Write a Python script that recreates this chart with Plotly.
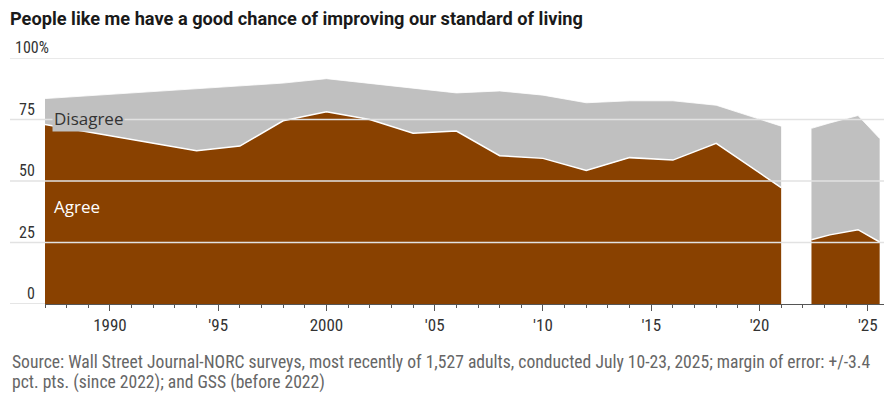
import plotly.graph_objects as go

# ---- data ----
years_gss = [1987, 1994, 1996, 1998, 2000, 2002, 2004, 2006, 2008, 2010, 2012, 2014, 2016, 2018, 2021]
agree_gss = [73.0, 62.3, 64.2, 74.5, 78.1, 75.0, 69.4, 70.3, 60.3, 59.2, 54.3, 59.5, 58.5, 65.3, 47.3]
disagree_gss = [10.5, 25.2, 24.5, 15.3, 13.5, 14.6, 18.2, 15.5, 26.3, 25.7, 27.5, 23.1, 24.1, 15.5, 25.0]

years_wsj = [2022.4, 2023.25, 2024.55, 2025.55]
agree_wsj = [26.1, 28.1, 30.2, 25.2]
disagree_wsj = [45.3, 45.5, 46.4, 42.1]

tick_years = [1990, 1995, 2000, 2005, 2010, 2015, 2020, 2025]
tick_labels = ["1990", "'95", "2000", "'05", "'10", "'15", "'20", "'25"]
y_grid = [25, 50, 75, 100]
y_labels = ["25", "50", "75", "100%"]

title_text = "People like me have a good chance of improving our standard of living"
source_1 = ("Source: Wall Street Journal-NORC surveys, most recently of 1,527 adults, "
            "conducted July 10-23, 2025; margin of error: +/-3.4")
source_2 = "pct. pts. (since 2022); and GSS (before 2022)"

BROWN = "#894100"
GRAY = "#c0c0c0"
NARROW = "Liberation Sans Narrow, Roboto Condensed, Arial Narrow, sans-serif"

fig = go.Figure()

for grp, xs, ag, dis in [("gss", years_gss, agree_gss, disagree_gss),
                         ("wsj", years_wsj, agree_wsj, disagree_wsj)]:
    fig.add_trace(go.Scatter(
        x=xs, y=ag, stackgroup=grp, mode="lines",
        line=dict(color="white", width=1.5), fillcolor=BROWN,
        hoverinfo="skip", showlegend=False))
    fig.add_trace(go.Scatter(
        x=xs, y=dis, stackgroup=grp, mode="lines",
        line=dict(color="white", width=0.8), fillcolor=GRAY,
        hoverinfo="skip", showlegend=False))

# page body has an 8px margin, so the figure is drawn 8px smaller and offset
OFF = 8
W, H = 895 - OFF, 404 - OFF
L, R, T = 45 - OFF, W - (884 - OFF), 58 - OFF
B = H - (304.4 - OFF)
plot_w = W - L - R
grid_x0 = (10 - 45) / plot_w
plot_bottom = 304.4 - OFF

shapes = []
for v in y_grid:
    shapes.append(dict(type="line", xref="paper", yref="y", x0=grid_x0, x1=1,
                       y0=v, y1=v, layer="above",
                       line=dict(color="#e2e2e2", width=1.3)))
shapes.append(dict(type="line", xref="paper", yref="y", x0=grid_x0, x1=0,
                   y0=0, y1=0, layer="above", line=dict(color="#dddddd", width=1.3)))

annotations = []
for v, lab in zip([0] + y_grid, ["0"] + y_labels):
    if lab.endswith("%"):
        annotations.append(dict(xref="paper", yref="y", x=0, y=v, xanchor="left",
                                yanchor="bottom", xshift=13 - 45, yshift=-1, text=lab,
                                showarrow=False,
                                font=dict(family=NARROW, size=16, color="#333333")))
    else:
        annotations.append(dict(xref="paper", yref="y", x=0, y=v, xanchor="right",
                                yanchor="bottom", xshift=37 - 45, yshift=-1, text=lab,
                                showarrow=False,
                                font=dict(family=NARROW, size=16, color="#333333")))

annotations.append(dict(xref="paper", yref="y", x=0, y=75.6, xanchor="left", yanchor="middle",
                        xshift=7, text="Disagree", showarrow=False, bgcolor=GRAY,
                        borderpad=1,
                        font=dict(family="Open Sans", size=17, color="#333333")))
annotations.append(dict(xref="paper", yref="y", x=0, y=39.5, xanchor="left", yanchor="middle",
                        xshift=7, text="Agree", showarrow=False,
                        font=dict(family="Open Sans", size=17, color="white")))

annotations.append(dict(xref="paper", yref="paper", x=0, y=0, xanchor="left", yanchor="middle",
                        xshift=10 - 45, yshift=-(362.5 - OFF - plot_bottom), text=source_1,
                        showarrow=False,
                        font=dict(family=NARROW, size=17.6, color="#666666")))
annotations.append(dict(xref="paper", yref="paper", x=0, y=0, xanchor="left", yanchor="middle",
                        xshift=10 - 45, yshift=-(383.2 - OFF - plot_bottom), text=source_2,
                        showarrow=False,
                        font=dict(family=NARROW, size=17.6, color="#666666")))

fig.update_layout(
    width=W, height=H,
    margin=dict(l=L, r=R, t=T, b=B, pad=0),
    paper_bgcolor="white", plot_bgcolor="white",
    title=dict(text=title_text, xref="container", yref="container",
               x=(10 - OFF) / W, y=1 - (18.5 - OFF) / H, xanchor="left", yanchor="middle",
               font=dict(family="Roboto", size=18.2, color="#1a1a1a", weight="bold")),
    shapes=shapes, annotations=annotations,
    xaxis=dict(range=[1987, 2025.75], showgrid=False, zeroline=False,
               showline=True, linecolor="#555555", linewidth=1,
               tickmode="array", tickvals=tick_years, ticktext=tick_labels,
               ticks="outside", ticklen=6, tickcolor="#555555", tickwidth=1,
               minor=dict(ticks="outside", ticklen=3, tickcolor="#555555",
                          dtick=1, tick0=1987, showgrid=False),
               tickfont=dict(family=NARROW, size=17, color="#333333"),
               fixedrange=True),
    yaxis=dict(range=[0, 100], showgrid=False, zeroline=False, showticklabels=False,
               showline=False, fixedrange=True),
    hovermode=False,
)

fig.write_html("out.html", config={"displayModeBar": False})
